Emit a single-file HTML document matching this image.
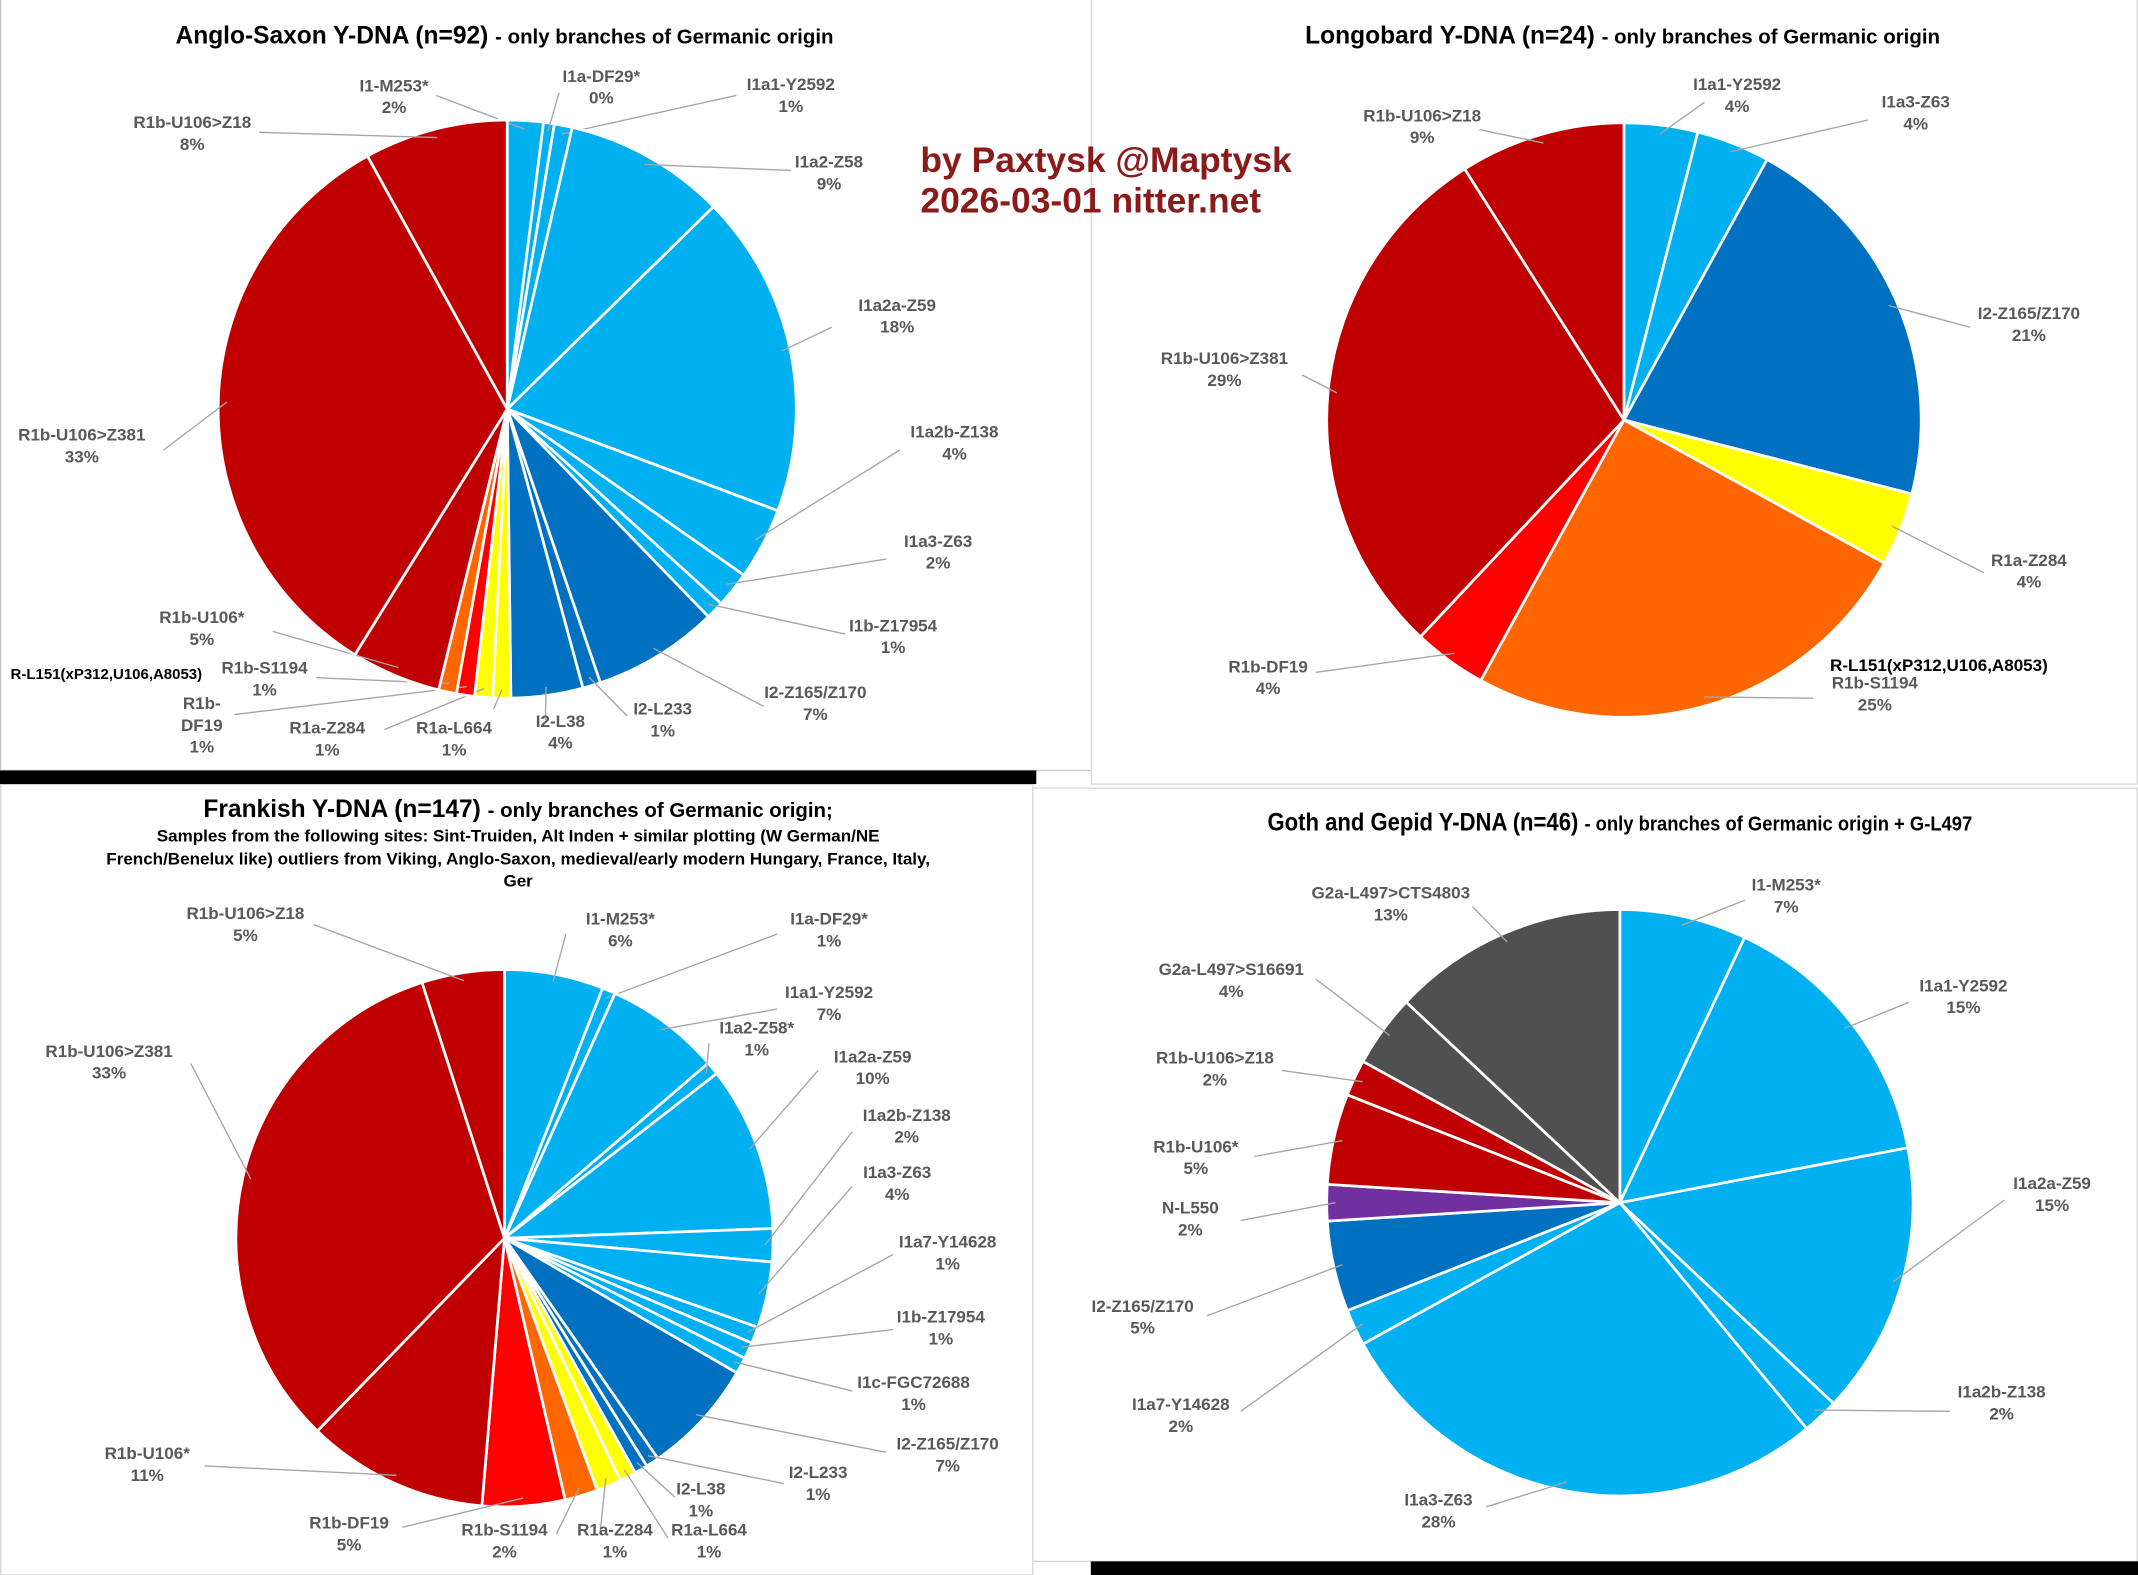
<!DOCTYPE html>
<html><head><meta charset="utf-8"><style>
html,body{margin:0;padding:0;background:#fff;}
svg{display:block;}
text{font-family:"Liberation Sans",Arial,sans-serif;font-weight:bold;}
.lbl{fill:#595959;font-size:12.5px;}
.ttl{fill:#000;font-size:18px;}
</style></head><body>
<svg id="chart" width="2138" height="1575" viewBox="0 0 1568 1155" preserveAspectRatio="none" xmlns="http://www.w3.org/2000/svg">
<rect x="0" y="0" width="1568" height="1155" fill="#fff"/>
<rect x="0.5" y="-1" width="800" height="566" fill="#fff" stroke="#c8c8c8"/>
<rect x="800.5" y="-1" width="767" height="576" fill="#fff" stroke="#d9d9d9"/>
<rect x="0.5" y="575" width="757" height="580" fill="#fff" stroke="#d9d9d9"/>
<rect x="757.5" y="578" width="810" height="567" fill="#fff" stroke="#d9d9d9"/>
<rect x="0" y="565" width="760" height="10" fill="#000"/>
<rect x="800" y="1145" width="768" height="10" fill="#000"/>

<text x="370" y="32" text-anchor="middle" class="ttl">Anglo-Saxon Y-DNA (n=92) <tspan font-size="15">- only branches of Germanic origin</tspan></text>
<text x="1190" y="32" text-anchor="middle" class="ttl">Longobard Y-DNA (n=24) <tspan font-size="15">- only branches of Germanic origin</tspan></text>
<text x="380" y="599" text-anchor="middle" class="ttl" font-size="19">Frankish Y-DNA (n=147) <tspan font-size="15">- only branches of Germanic origin;</tspan></text>
<g font-size="12.5" fill="#000" text-anchor="middle">
<text x="380" y="617">Samples from  the following sites: Sint-Truiden, Alt Inden + similar plotting (W German/NE</text>
<text x="380" y="634">French/Benelux like) outliers from Viking, Anglo-Saxon, medieval/early modern Hungary, France, Italy,</text>
<text x="380" y="650">Ger</text>
</g>
<text x="1188" y="609" text-anchor="middle" class="ttl" font-size="19" transform="translate(1188,0) scale(0.9,1) translate(-1188,0)">Goth and Gepid Y-DNA (n=46) <tspan font-size="15">- only branches of Germanic origin + G-L497</tspan></text>

<g fill="#8b1a1a" font-size="26">
<text x="675" y="126" font-family="DejaVu Sans" font-weight="bold">by Paxtysk @Maptysk</text>
<text x="675" y="156" font-family="DejaVu Sans" font-weight="bold">2026-03-01 nitter.net</text>
</g>
<g id="pies"></g>
</svg>
<script>
const LB='#00b0f0', DB='#0070c0', YE='#ffff00', OR='#ff6600', RE='#ff0000', DR='#c00000', PU='#7030a0', GR='#505050';
// Anglo-Saxon
const asNames=['I1-M253*','I1a-DF29*','I1a1-Y2592','I1a2-Z58','I1a2a-Z59','I1a2b-Z138','I1a3-Z63','I1b-Z17954','I2-Z165/Z170','I2-L233','I2-L38','R1a-L664','R1a-Z284','R1b-DF19','R1b-S1194','R1b-U106*','R1b-U106>Z381','R1b-U106>Z18'];
const asValues=[2,0.6,1,9,18,4,2,1,7,1,4,1,1,1,1,5,33,8];
const asPct=['2%','0%','1%','9%','18%','4%','2%','1%','7%','1%','4%','1%','1%','1%','1%','5%','33%','8%'];
const asColors=[LB,LB,LB,LB,LB,LB,LB,LB,DB,DB,DB,YE,YE,RE,OR,DR,DR,DR];
const asLab=[[289,67,320,70],[441,60,410,68],[580,66,540,70],[608,123,580,125],[658,228,610,240],[700,321,660,330],[688,401,650,410],[655,463,620,465],[598,512,560,518],[486,524,460,525],[411,533,400,528],[333,538,362,520],[240,538,282,535],[148,520,172,524],[194,494,232,497],[148,457,200,463],[60,323,120,330],[141,94,190,97]];
// Longobard
const lbNames=['I1a1-Y2592','I1a3-Z63','I2-Z165/Z170','R1a-Z284','R1b-S1194','R1b-DF19','R1b-U106>Z381','R1b-U106>Z18'];
const lbValues=[4,4,21,4,25,4,29,9];
const lbPct=['4%','4%','21%','4%','25%','4%','29%','9%'];
const lbColors=[LB,LB,DB,YE,OR,RE,DR,DR];
const lbLab=[[1274,66,1250,75],[1405,79,1370,88],[1488,234,1445,240],[1488,415,1455,420],[1375,505,1330,512],[930,493,965,493],[898,267,955,275],[1043,89,1085,95]];
// Frankish
const frNames=['I1-M253*','I1a-DF29*','I1a1-Y2592','I1a2-Z58*','I1a2a-Z59','I1a2b-Z138','I1a3-Z63','I1a7-Y14628','I1b-Z17954','I1c-FGC72688','I2-Z165/Z170','I2-L233','I2-L38','R1a-L664','R1a-Z284','R1b-S1194','R1b-DF19','R1b-U106*','R1b-U106>Z381','R1b-U106>Z18'];
const frValues=[6,0.8,7,0.8,10,2,4,1,1,1,7,0.8,0.8,1,1.5,2,5,11,33,5];
const frPct=['6%','1%','7%','1%','10%','2%','4%','1%','1%','1%','7%','1%','1%','1%','1%','2%','5%','11%','33%','5%'];
const frColors=[LB,LB,LB,LB,LB,LB,LB,LB,LB,LB,DB,DB,DB,YE,YE,OR,RE,DR,DR,DR];
const frLab=[[455,678,415,685],[608,678,570,685],[608,732,570,740],[555,758,520,765],[640,779,600,785],[665,822,625,830],[658,864,625,870],[695,915,655,920],[690,970,655,975],[670,1018,625,1020],[695,1063,650,1065],[600,1084,575,1088],[514,1096,495,1098],[520,1126,490,1128],[451,1126,440,1125],[370,1126,408,1125],[256,1121,295,1120],[108,1070,150,1075],[80,775,140,780],[180,674,230,678]];
// Goth & Gepid
const gtNames=['I1-M253*','I1a1-Y2592','I1a2a-Z59','I1a2b-Z138','I1a3-Z63','I1a7-Y14628','I2-Z165/Z170','N-L550','R1b-U106*','R1b-U106>Z18','G2a-L497>S16691','G2a-L497>CTS4803'];
const gtValues=[7,15,15,2,28,2,5,2,5,2,4,13];
const gtPct=['7%','15%','15%','2%','28%','2%','5%','2%','5%','2%','4%','13%'];
const gtColors=[LB,LB,LB,LB,LB,LB,DB,PU,DR,DR,GR,GR];
const gtLab=[[1310,653,1280,660],[1440,727,1400,735],[1505,872,1470,880],[1468,1025,1430,1035],[1055,1104,1090,1105],[866,1034,910,1035],[838,962,885,965],[873,890,910,895],[877,845,920,848],[891,780,940,785],[903,715,965,718],[1020,659,1080,665]];

const NS='http://www.w3.org/2000/svg';
const root=document.getElementById('pies');
function mk(tag,attrs,parent){const e=document.createElementNS(NS,tag);for(const k in attrs)e.setAttribute(k,attrs[k]);parent.appendChild(e);return e;}
function pt(cx,cy,r,a){return [cx+r*Math.sin(a),cy-r*Math.cos(a)];}
function drawPie(key,cx,cy,r,names,values,pcts,colors,labs){
  const g=mk('g',{},root);
  
  
  const total=values.reduce((a,b)=>a+b,0);
  let a0=0;
  values.forEach((v,i)=>{
    const a1=a0+v/total*2*Math.PI;
    const p0=pt(cx,cy,r,a0),p1=pt(cx,cy,r,a1);
    const large=(a1-a0)>Math.PI?1:0;
    const s=mk('path',{d:`M${cx},${cy}L${p0[0]},${p0[1]}A${r},${r} 0 ${large} 1 ${p1[0]},${p1[1]}Z`,fill:colors[i],stroke:'#fff','stroke-width':2,'stroke-linejoin':'round'},g);
    
    
    const m=(a0+a1)/2, e=pt(cx,cy,r*0.97,m), L=labs[i];
    const ln=mk('line',{x1:L[2],y1:L[3],x2:e[0],y2:e[1],stroke:'#a6a6a6','stroke-width':1},g);
    
    
    const t=mk('text',{x:L[0],y:L[1],'text-anchor':'middle',class:'lbl'},g);
    
    
    let lines=[names[i],pcts[i]];
    if(key==='anglo-saxon'&&names[i]==='R1b-DF19')lines=['R1b-','DF19',pcts[i]];
    lines.forEach((s2,j)=>{const ts=mk('tspan',{x:L[0],dy:j?16:0},t);ts.textContent=s2;});
    a0=a1;
  });
}
drawPie('anglo-saxon',372,300,212,asNames,asValues,asPct,asColors,asLab);
drawPie('longobard',1191,308,218,lbNames,lbValues,lbPct,lbColors,lbLab);
drawPie('frankish',370,908,197,frNames,frValues,frPct,frColors,frLab);
drawPie('goth',1188,882,215,gtNames,gtValues,gtPct,gtColors,gtLab);
const n1=mk('text',{x:78,y:498,'text-anchor':'middle','font-size':11,fill:'#000'},root);
n1.textContent='R-L151(xP312,U106,A8053)';


const n2=mk('text',{x:1422,y:492,'text-anchor':'middle','font-size':12.5,fill:'#000'},root);
n2.textContent='R-L151(xP312,U106,A8053)';


</script>
</body></html>
